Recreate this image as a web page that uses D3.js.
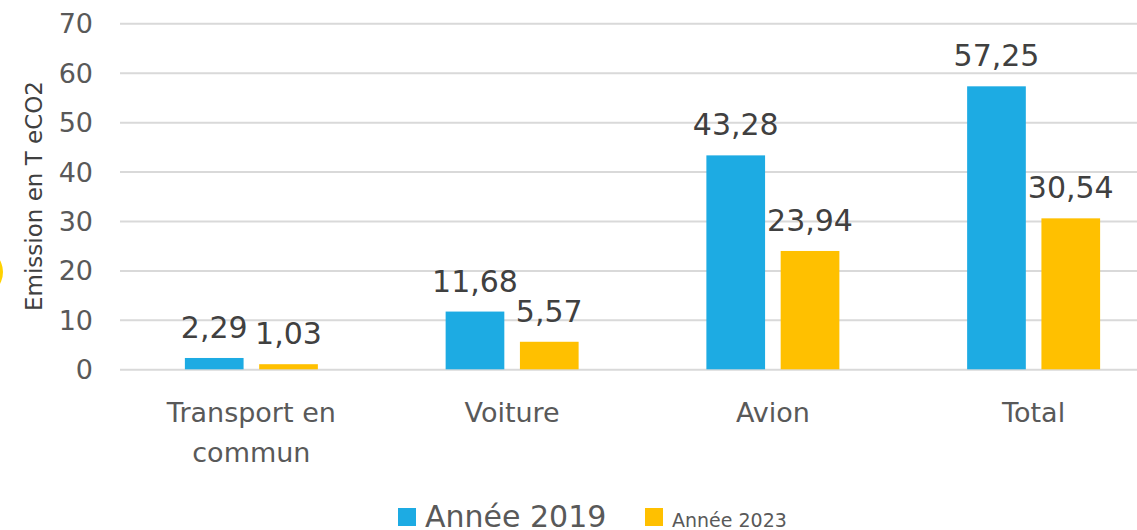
<!DOCTYPE html>
<html>
<head>
<meta charset="utf-8">
<script src="https://cdn.jsdelivr.net/npm/d3@7"></script>
<style>
  html, body { margin: 0; padding: 0; background: #fff; }
  svg { display: block; font-family: "DejaVu Sans", sans-serif; }
</style>
</head>
<body>
<svg id="chart" width="1137" height="530"></svg>
<script>
const categories = ["Transport en commun", "Voiture", "Avion", "Total"];
const categoryLines = [["Transport en", "commun"], ["Voiture"], ["Avion"], ["Total"]];
const seriesNames = ["Année 2019", "Année 2023"];
const values2019 = [2.29, 11.68, 43.28, 57.25];
const values2023 = [1.03, 5.57, 23.94, 30.54];
const labels2019 = ["2,29", "11,68", "43,28", "57,25"];
const labels2023 = ["1,03", "5,57", "23,94", "30,54"];
const yTicks = [0, 10, 20, 30, 40, 50, 60, 70];
const colors = ["#1DABE3", "#FFC000"];
const axisTitle = "Emission en T eCO2";

const svg = d3.select("#chart");

// decorative yellow sliver at the left edge
svg.append("circle").attr("cx", -21).attr("cy", 272).attr("r", 24).attr("fill", "#FFD200");

const y = d3.scaleLinear().domain([0, 70]).range([369.3, 23.3]);
const x0 = d3.scaleBand().domain(categories).range([121, 1164])
  .paddingInner(0.49).paddingOuter(0.245);
const x1 = d3.scaleBand().domain(seriesNames).range([0, x0.bandwidth()])
  .paddingInner(0.21).paddingOuter(0);

// gridlines
const grid = svg.append("g")
  .attr("transform", "translate(0,0)")
  .call(d3.axisLeft(y).tickValues(yTicks).tickSize(-1020).tickFormat(""))
  .attr("transform", "translate(120,0)");
grid.select(".domain").remove();
grid.selectAll("line").attr("stroke", "#d9d9d9").attr("stroke-width", 2);

// tick labels
svg.append("g").selectAll("text").data(yTicks).join("text")
  .attr("x", 93).attr("y", d => y(d) + 10)
  .attr("text-anchor", "end")
  .attr("font-size", 27).attr("fill", "#595959")
  .text(d => d);

// axis title
svg.append("text")
  .attr("transform", "translate(42,196) rotate(-90)")
  .attr("text-anchor", "middle")
  .attr("font-size", 23).attr("fill", "#404040")
  .text(axisTitle);

const data = categories.map((c, i) => ({
  cat: c,
  bars: [
    { s: seriesNames[0], v: values2019[i], l: labels2019[i], c: colors[0] },
    { s: seriesNames[1], v: values2023[i], l: labels2023[i], c: colors[1] }
  ]
}));

const groups = svg.append("g").selectAll("g").data(data).join("g")
  .attr("transform", d => `translate(${x0(d.cat)},0)`);

groups.selectAll("rect").data(d => d.bars).join("rect")
  .attr("x", d => x1(d.s))
  .attr("width", x1.bandwidth())
  .attr("y", d => y(d.v))
  .attr("height", d => y(0) - y(d.v))
  .attr("fill", d => d.c);

groups.selectAll("text.val").data(d => d.bars).join("text")
  .attr("class", "val")
  .attr("x", d => x1(d.s) + x1.bandwidth() / 2)
  .attr("y", d => y(d.v) - 20)
  .attr("text-anchor", "middle")
  .attr("font-size", 30).attr("fill", "#404040")
  .text(d => d.l);

// category labels
const catG = svg.append("g").selectAll("text").data(categories).join("text")
  .attr("x", d => x0(d) + x0.bandwidth() / 2)
  .attr("y", 421.7)
  .attr("text-anchor", "middle")
  .attr("font-size", 27).attr("fill", "#595959");
catG.each(function(d, i) {
  const t = d3.select(this);
  categoryLines[i].forEach((line, j) => {
    t.append("tspan").attr("x", x0(d) + x0.bandwidth() / 2).attr("dy", j === 0 ? 0 : 40).text(line);
  });
});

// legend
const legend = [
  { name: seriesNames[0], color: colors[0], x: 398, size: 30 },
  { name: seriesNames[1], color: colors[1], x: 645, size: 19 }
];
const lg = svg.append("g").selectAll("g").data(legend).join("g");
lg.append("rect").attr("x", d => d.x).attr("y", 508).attr("width", 18).attr("height", 18)
  .attr("fill", d => d.color);
lg.append("text").attr("x", d => d.x + 27).attr("y", 526.5)
  .attr("font-size", d => d.size).attr("fill", "#595959")
  .text(d => d.name);
</script>
</body>
</html>
